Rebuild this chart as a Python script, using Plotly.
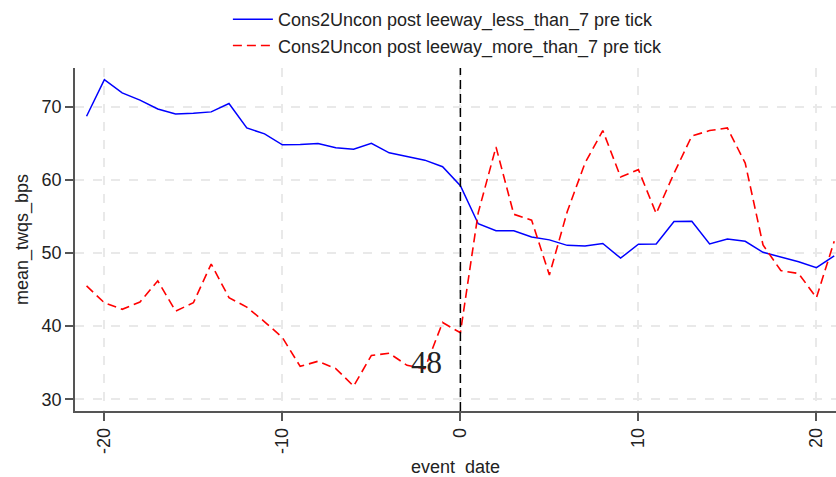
import plotly.graph_objects as go

event_date = list(range(-21, 22))
less_than_7 = [68.7, 73.7, 71.9, 70.9, 69.7, 69.0, 69.1, 69.3, 70.45, 67.1, 66.3,
               64.8, 64.85, 64.97, 64.4, 64.2, 65.0, 63.7, 63.2, 62.7, 61.8,
               59.2, 54.0, 53.05, 53.05, 52.2, 51.8, 51.05, 50.95, 51.3, 49.3,
               51.2, 51.25, 54.3, 54.35, 51.25, 51.9, 51.6, 50.1, 49.5, 48.8,
               48.0, 49.6]
more_than_7 = [45.5, 43.2, 42.3, 43.3, 46.2, 42.05, 43.2, 48.5, 43.9, 42.6, 40.6,
               38.45, 34.5, 35.2, 34.2, 31.8, 36.0, 36.3, 34.65, 34.2, 40.5,
               39.1, 55.5, 64.5, 55.3, 54.5, 47.0, 55.65, 62.3, 66.75, 60.4,
               61.4, 55.4, 60.9, 66.0, 66.75, 67.1, 62.3, 51.1, 47.6, 47.2,
               43.9, 51.6]
x_ticks = [-20, -10, 0, 10, 20]
x_ticklabels = ["-20", "-10", "0", "10", "20"]
y_ticks = [30, 40, 50, 60, 70]
y_ticklabels = ["30", "40", "50", "60", "70"]
annot_text = "48"
annot_x, annot_y = -1.9, 35.1

font = "Liberation Sans, Arial, sans-serif"
axis_col = "#555555"
grid_col = "#e9e9e9"

fig = go.Figure()
fig.add_trace(go.Scatter(x=event_date, y=less_than_7, mode="lines",
                         name="Cons2Uncon post leeway_less_than_7 pre tick",
                         line=dict(color="blue", width=1.5)))
fig.add_trace(go.Scatter(x=event_date, y=more_than_7, mode="lines",
                         name="Cons2Uncon post leeway_more_than_7 pre tick",
                         line=dict(color="red", width=1.6, dash="9px,5px")))

fig.add_shape(type="line", xref="x", yref="paper", x0=0, x1=0, y0=0, y1=1,
              line=dict(color="black", width=1.5, dash="9px,5px"))

fig.add_annotation(x=annot_x, y=annot_y, text=annot_text, showarrow=False,
                   font=dict(family="Liberation Serif, Times New Roman, serif",
                             size=31, color="#222222"))

fig.update_layout(
    width=836, height=477,
    margin=dict(l=75, r=0, t=68, b=66, autoexpand=False),
    paper_bgcolor="white", plot_bgcolor="white",
    font=dict(family=font, size=18, color="#222222"),
    showlegend=True,
    legend=dict(orientation="v", x=0.49, xanchor="center",
                yref="container", y=0.998, yanchor="top",
                font=dict(size=18), bgcolor="rgba(0,0,0,0)",
                tracegroupgap=0, itemwidth=40),
    xaxis=dict(range=[-21.65, 21.1], tickvals=x_ticks, ticktext=x_ticklabels,
               tickangle=-90, automargin=False,
               showline=True, linecolor=axis_col, linewidth=1.5,
               ticks="outside", ticklen=8, tickcolor=axis_col, tickwidth=1.5,
               showgrid=True, gridcolor=grid_col, griddash="dash", gridwidth=1.5,
               zeroline=False, tickfont=dict(size=18),
               title=dict(text="event  date", font=dict(size=18), standoff=10)),
    yaxis=dict(range=[28.4, 75.3], tickvals=y_ticks, ticktext=y_ticklabels,
               automargin=False,
               showline=True, linecolor=axis_col, linewidth=1.5,
               ticks="outside", ticklen=8, tickcolor=axis_col, tickwidth=1.5,
               showgrid=True, gridcolor=grid_col, griddash="dash", gridwidth=1.5,
               zeroline=False, tickfont=dict(size=18),
               title=dict(text="mean_twqs_bps", font=dict(size=18), standoff=8)),
)

fig.write_html("out.html")
